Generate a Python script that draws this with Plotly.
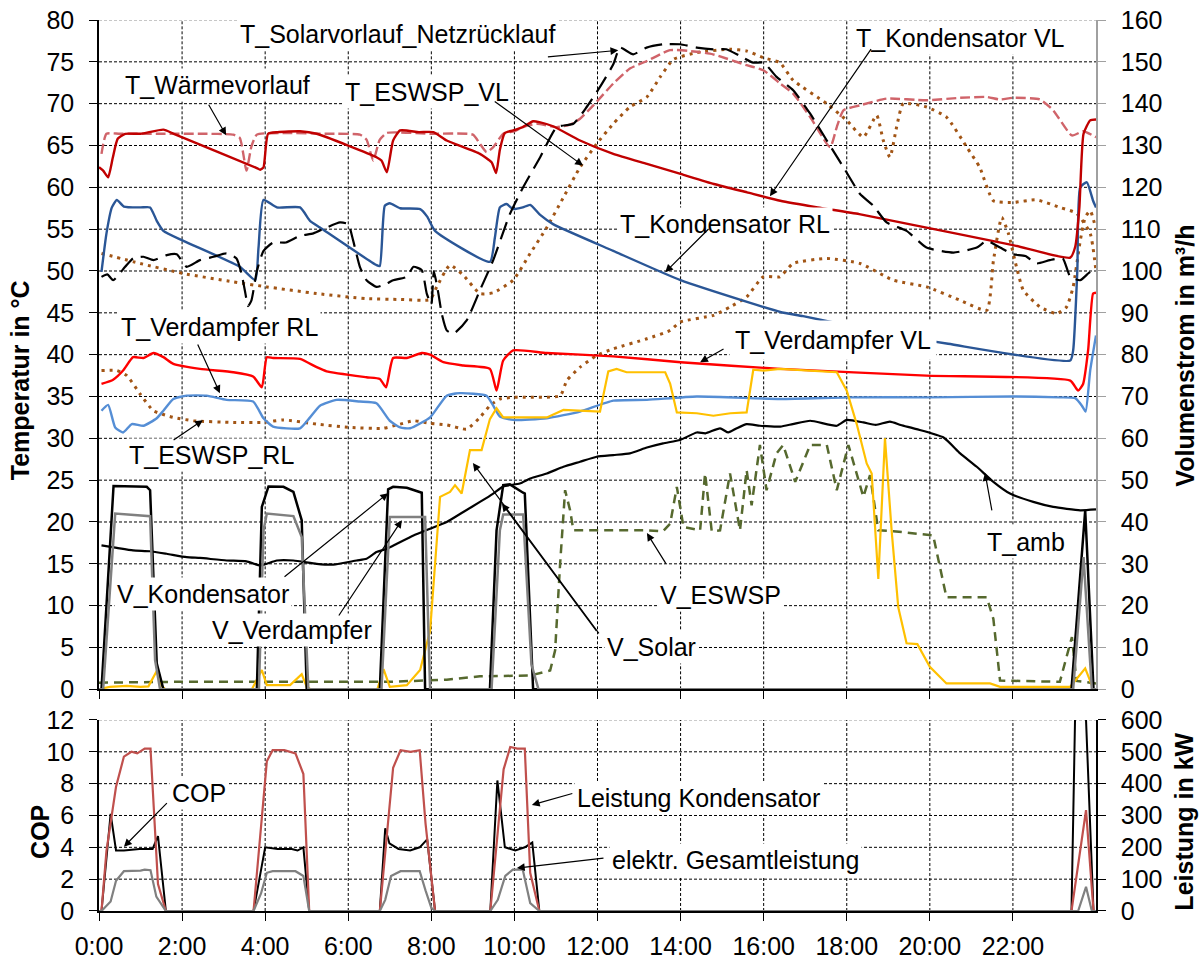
import plotly.graph_objects as go

# ---------------------------------------------------------------------------
# Measured daily profile, time in hours of the day
# Temperatures in °C (left axis, upper panel)
# ---------------------------------------------------------------------------
t_kondensator_vl = [
    (0.0, 62.4), (0.1, 62.0), (0.22, 61.2), (0.33, 63.5), (0.45, 65.8), (0.63, 66.4),
    (1.0, 66.4), (1.55, 66.9), (1.8, 66.4), (3.8, 62.3), (3.88, 62.1), (3.96, 62.4),
    (4.07, 66.4), (4.3, 66.6), (4.84, 66.7), (5.24, 66.4), (6.68, 63.6), (6.8, 63.2),
    (6.93, 61.8), (7.08, 65.6), (7.25, 66.8), (7.7, 66.6), (8.05, 66.6), (8.37, 65.6),
    (9.17, 64.0), (9.45, 63.0), (9.56, 61.7), (9.65, 64.5), (9.77, 66.5), (9.97, 66.8),
    (10.2, 67.2), (10.45, 67.9), (10.6, 67.8), (10.93, 67.3), (11.58, 65.6), (12.38, 64.0),
    (13.19, 62.8), (14.0, 61.6), (14.8, 60.4), (15.6, 59.4), (16.4, 58.4), (17.3, 57.6),
    (18.3, 56.8), (19.5, 55.6), (20.7, 54.4), (22.0, 53.1), (23.38, 51.6), (23.5, 52.9),
    (23.6, 57.6), (23.7, 66.4), (23.86, 68.0), (24.0, 68.1),
]

t_kondensator_rl = [
    (0.06, 49.9), (0.18, 54.5), (0.31, 57.6), (0.43, 58.5), (0.6, 57.7), (1.0, 57.6),
    (1.23, 57.6), (1.39, 56.0), (1.55, 54.8), (2.03, 53.6), (3.39, 50.5), (3.76, 48.9),
    (3.84, 52.8), (3.96, 58.5), (4.28, 57.6), (4.84, 57.6), (5.08, 56.0), (5.32, 55.2),
    (6.68, 50.7), (6.76, 50.6), (6.88, 57.8), (7.0, 58.1), (7.25, 57.5), (7.73, 57.4),
    (7.9, 56.5), (8.09, 54.8), (9.41, 51.1), (9.53, 54.0), (9.65, 57.6), (9.81, 58.0),
    (9.97, 57.4), (10.2, 57.6), (10.38, 57.9), (10.62, 56.7), (10.93, 55.6), (12.38, 52.4),
    (14.0, 48.9), (15.6, 46.3), (16.4, 45.1), (16.95, 44.6), (18.5, 43.0), (20.44, 41.3),
    (23.38, 39.3), (23.45, 40.5), (23.55, 50.0), (23.62, 60.0), (23.78, 60.6),
    (23.93, 58.4), (24.0, 57.6),
]

t_verdampfer_rl = [
    (0.06, 33.3), (0.22, 34.0), (0.39, 31.3), (0.58, 30.7), (0.79, 31.7), (1.07, 31.5),
    (1.39, 32.4), (1.55, 33.3), (1.79, 34.7), (2.11, 35.1), (2.59, 35.1), (3.07, 34.6),
    (3.71, 34.4), (3.96, 32.4), (4.19, 31.4), (4.84, 31.2), (5.08, 32.5), (5.32, 33.9),
    (5.72, 34.6), (6.28, 34.4), (6.68, 34.2), (7.0, 32.1), (7.25, 31.3), (7.49, 31.2),
    (7.97, 32.5), (8.37, 35.1), (8.69, 35.4), (9.33, 35.1), (9.49, 33.9), (9.65, 32.6),
    (9.97, 32.2), (10.78, 32.4), (11.58, 33.2), (12.38, 34.5), (13.19, 34.6), (14.39, 35.0),
    (16.4, 34.7), (18.08, 34.9), (20.0, 34.9), (22.0, 35.0), (23.13, 34.9), (23.5, 34.8),
    (23.66, 33.9), (23.75, 33.2), (23.86, 38.1), (24.0, 42.3),
]

t_verdampfer_vl = [
    (0.06, 36.5), (0.34, 37.0), (0.58, 38.1), (0.82, 39.7), (1.07, 39.6), (1.31, 40.2),
    (1.55, 39.7), (1.79, 38.9), (2.43, 38.3), (3.23, 37.9), (3.71, 37.4), (3.92, 36.1),
    (4.04, 39.7), (4.19, 39.6), (4.84, 39.5), (5.24, 38.5), (5.48, 38.0), (6.44, 37.3),
    (6.76, 37.1), (6.91, 36.1), (7.08, 39.6), (7.41, 39.6), (7.77, 40.2), (7.97, 40.0),
    (8.29, 39.1), (8.77, 38.7), (9.41, 38.3), (9.57, 35.7), (9.73, 39.3), (9.97, 40.5),
    (10.78, 40.2), (12.38, 39.8), (14.0, 39.1), (16.4, 38.3), (19.92, 37.5), (23.38, 36.9),
    (23.57, 35.7), (23.69, 36.5), (23.81, 40.5), (23.93, 47.3), (24.0, 47.4),
]

t_waermevorlauf = [
    (0.06, 64.0), (0.18, 66.4), (0.5, 66.4), (1.5, 66.4), (2.5, 66.4), (3.23, 66.3),
    (3.39, 65.9), (3.55, 62.0), (3.67, 64.9), (3.8, 66.3), (4.5, 66.5), (5.5, 66.4),
    (6.28, 66.3), (6.44, 65.7), (6.6, 63.2), (6.76, 65.7), (6.93, 66.5), (8.0, 66.4),
    (9.0, 66.3), (9.17, 65.2), (9.33, 64.2), (9.49, 64.8), (9.73, 66.4), (10.0, 66.7),
    (10.2, 67.2), (10.54, 67.6), (11.02, 67.2), (11.34, 67.5), (11.58, 68.2), (11.9, 69.8),
    (12.38, 72.4), (12.78, 74.2), (13.19, 75.1), (13.75, 76.4), (14.39, 76.2), (14.78, 75.9),
    (15.59, 74.6), (15.99, 74.0), (16.4, 72.4), (16.71, 71.2), (17.12, 68.4), (17.6, 64.8),
    (17.76, 67.2), (17.92, 69.2), (18.32, 69.8), (18.96, 70.6), (19.92, 70.4), (20.73, 70.7),
    (21.37, 70.8), (21.69, 70.5), (22.0, 70.7), (22.65, 70.5), (22.97, 69.2), (23.42, 66.2),
    (23.69, 66.7), (24.0, 66.0),
]

t_solar_netzruecklauf = [
    (0.06, 49.3), (0.2, 49.6), (0.34, 48.9), (0.63, 50.5), (0.82, 51.5), (1.07, 51.7),
    (1.31, 51.3), (1.63, 51.9), (1.87, 52.0), (2.11, 50.5), (2.43, 51.3), (2.76, 51.7),
    (3.07, 52.1), (3.31, 51.5), (3.43, 49.7), (3.51, 47.7), (3.59, 45.8), (3.67, 46.5),
    (3.8, 50.0), (3.96, 52.4), (4.19, 53.4), (4.5, 53.4), (4.84, 54.2), (5.16, 54.5),
    (5.48, 55.2), (5.8, 55.8), (6.0, 55.6), (6.12, 53.6), (6.28, 50.5), (6.44, 48.9),
    (6.68, 48.1), (6.93, 48.5), (7.08, 48.9), (7.41, 49.3), (7.57, 50.5), (7.77, 50.1),
    (7.89, 47.3), (8.0, 46.0), (8.06, 50.0), (8.17, 47.3), (8.25, 44.9), (8.37, 42.9),
    (8.53, 42.5), (8.85, 44.1), (9.17, 47.7), (9.49, 51.3), (9.89, 56.8), (10.21, 60.0),
    (10.62, 63.6), (11.02, 67.2), (11.42, 67.6), (11.74, 69.6), (12.06, 72.0), (12.38, 74.7),
    (12.54, 76.7), (12.86, 75.9), (13.18, 76.7), (13.58, 77.1), (13.99, 77.1), (14.39, 76.7),
    (14.79, 76.5), (15.1, 76.5), (15.43, 75.7), (15.75, 74.9), (16.0, 74.9), (16.31, 73.2),
    (16.71, 71.6), (17.12, 68.8), (17.52, 65.6), (17.92, 62.4), (18.32, 59.2), (18.64, 57.8),
    (18.96, 55.8), (19.44, 54.8), (19.92, 52.8), (20.57, 52.2), (21.13, 52.8), (21.37, 53.6),
    (21.69, 52.8), (22.0, 52.0), (22.3, 51.8), (22.57, 50.9), (22.89, 51.3), (23.2, 51.5),
    (23.38, 49.3), (23.62, 48.9), (23.81, 49.7), (24.0, 50.5),
]

t_eswsp_vl = [
    (0.06, 52.1), (0.99, 50.9), (2.03, 49.7), (3.23, 48.7), (4.04, 48.1), (5.24, 47.3),
    (6.44, 46.7), (7.25, 46.6), (7.97, 46.6), (8.13, 48.1), (8.45, 50.7), (8.77, 49.5),
    (9.17, 47.3), (9.49, 47.4), (9.97, 48.9), (10.38, 52.1), (10.78, 55.2), (11.18, 58.8),
    (11.58, 62.4), (11.98, 65.2), (12.38, 67.6), (12.78, 69.6), (13.19, 70.8), (13.51, 73.2),
    (13.83, 75.3), (14.39, 76.1), (15.19, 76.5), (15.59, 76.3), (15.99, 75.5), (16.39, 74.9),
    (16.71, 72.8), (17.52, 70.0), (18.0, 68.0), (18.4, 66.0), (18.72, 68.6), (18.88, 65.6),
    (19.04, 63.6), (19.2, 67.2), (19.36, 70.0), (19.92, 69.6), (20.4, 68.4), (20.89, 64.8),
    (21.2, 62.4), (21.53, 58.4), (22.0, 58.2), (22.57, 58.5), (23.13, 57.6), (23.53, 56.9),
    (23.86, 54.5), (24.0, 50.0),
]

t_eswsp_rl = [
    (0.06, 38.1), (0.43, 38.1), (0.67, 37.5), (0.99, 35.3), (1.31, 33.3), (1.79, 32.5),
    (2.27, 32.1), (3.23, 31.9), (3.96, 31.9), (4.44, 32.2), (5.24, 31.7), (6.04, 31.3),
    (6.84, 31.2), (7.25, 31.7), (7.57, 32.1), (7.97, 31.8), (8.37, 31.6), (8.85, 31.1),
    (9.17, 32.5), (9.41, 33.9), (9.65, 34.7), (9.97, 34.9), (11.1, 35.1), (11.26, 36.9),
    (11.58, 38.5), (11.98, 39.9), (12.38, 40.7), (13.19, 41.9), (13.75, 42.9), (13.99, 43.9),
    (14.79, 44.7), (15.19, 45.7), (15.59, 46.9), (15.99, 49.3), (16.39, 49.3), (16.71, 50.9),
    (17.52, 51.5), (18.32, 50.9), (19.12, 48.9), (19.92, 48.1), (20.73, 46.5), (21.37, 45.3),
    (21.53, 51.2), (21.73, 56.4), (21.89, 54.5), (22.09, 50.4), (22.25, 47.7), (22.65, 45.7),
    (23.05, 44.9), (23.29, 45.7), (23.45, 48.1), (23.62, 53.6), (23.74, 56.4), (23.86, 57.2),
    (24.0, 55.0),
]

t_amb = [
    (0.06, 17.2), (0.43, 16.9), (0.82, 16.6), (1.23, 16.5), (1.63, 16.2), (2.11, 15.8),
    (2.43, 15.7), (3.07, 15.4), (3.55, 15.3), (3.88, 14.8), (4.28, 15.4), (4.68, 15.4),
    (5.24, 15.0), (5.64, 14.9), (6.2, 15.4), (6.44, 15.6), (6.68, 16.4), (6.93, 16.8),
    (7.17, 17.4), (7.57, 18.4), (7.97, 19.2), (8.37, 20.0), (8.77, 21.2), (9.17, 22.4),
    (9.49, 23.4), (9.73, 24.25), (10.13, 24.6), (10.38, 25.2), (10.78, 25.8), (11.18, 26.6),
    (11.58, 27.2), (11.98, 27.8), (12.38, 28.0), (12.78, 28.2), (13.19, 28.9), (13.58, 29.4),
    (13.99, 29.8), (14.39, 30.7), (14.6, 30.6), (14.95, 31.2), (15.15, 30.7), (15.35, 31.2),
    (15.59, 31.7), (15.91, 31.5), (16.4, 31.4), (16.7, 31.7), (17.12, 32.1), (17.76, 31.5),
    (18.0, 32.2), (18.4, 31.9), (18.7, 31.6), (19.04, 32.0), (19.3, 31.6), (19.68, 31.1),
    (20.33, 30.1), (20.73, 28.2), (21.13, 26.6), (21.53, 24.8), (21.93, 23.4), (22.49, 22.4),
    (22.97, 21.8), (23.62, 21.4), (24.0, 21.5),
]

# Volume flows in m³/h (right axis, upper panel)
v_kondensator = [
    (0.0, 0), (0.06, 0), (0.35, 48.6), (1.0, 48.5), (1.15, 48.4), (1.23, 47.6), (1.39, 6.2),
    (1.55, 0), (3.8, 0), (3.92, 43.6), (4.08, 48.5), (4.44, 48.4), (4.68, 47.2), (4.88, 40.4),
    (5.0, 0), (6.76, 0), (6.96, 47.8), (7.08, 48.4), (7.41, 48.2), (7.77, 47.0), (7.85, 0),
    (9.41, 0), (9.57, 38.0), (9.73, 48.8), (9.89, 49.0), (10.21, 47.0), (10.25, 46.8),
    (10.45, 0), (23.41, 0), (23.74, 42.8), (23.94, 0), (24.0, 0),
]

v_verdampfer = [
    (0.0, 0), (0.1, 0), (0.39, 42.0), (1.15, 41.4), (1.23, 41.4), (1.35, 7.0), (1.47, 0),
    (3.85, 0), (3.96, 38.0), (4.04, 42.0), (4.44, 41.6), (4.68, 41.4), (4.88, 36.4),
    (5.04, 0), (6.8, 0), (7.0, 41.2), (7.73, 41.2), (7.85, 41.2), (7.97, 0), (9.45, 0),
    (9.65, 38.0), (9.73, 41.8), (10.21, 41.8), (10.41, 6.0), (10.58, 0), (23.45, 0),
    (23.7, 31.6), (23.9, 0), (24.0, 0),
]

v_solar = [
    (0.0, 0), (0.06, 0.2), (0.26, 0.6), (0.67, 0.8), (1.0, 0.6), (1.19, 0.7), (1.39, 4.4),
    (1.51, 0.8), (1.6, 0), (3.68, 0), (3.92, 4.6), (4.04, 1.0), (4.6, 1.0), (4.88, 3.6),
    (5.0, 0.6), (5.1, 0), (6.7, 0), (6.85, 4.8), (7.0, 0.6), (7.41, 1.0), (7.73, 4.6),
    (7.97, 14.0), (8.09, 30.0), (8.21, 46.0), (8.45, 47.2), (8.57, 48.8), (8.73, 46.8),
    (8.93, 57.2), (9.21, 57.2), (9.41, 64.6), (9.57, 67.2), (9.73, 65.0), (9.97, 65.0),
    (10.78, 65.0), (11.18, 66.8), (11.58, 66.6), (12.06, 66.4), (12.26, 76.0), (12.46, 76.6),
    (12.7, 75.8), (13.19, 75.8), (13.63, 75.8), (13.75, 73.0), (13.91, 66.2), (14.39, 66.0),
    (14.79, 65.4), (15.2, 66.0), (15.59, 66.2), (15.75, 76.4), (16.0, 76.2), (16.39, 76.6),
    (17.0, 76.2), (17.76, 75.8), (18.0, 71.4), (18.24, 63.4), (18.48, 54.0), (18.6, 51.6),
    (18.76, 26.4), (18.92, 60.0), (19.08, 38.0), (19.24, 19.6), (19.44, 11.0), (19.7, 10.8),
    (20.0, 5.4), (20.4, 1.4), (21.45, 1.4), (21.69, 0.6), (23.38, 0.6), (23.74, 5.0),
    (23.94, 0), (24.0, 0),
]

v_eswsp = [
    (0.0, 1.6), (1.0, 1.7), (2.0, 1.8), (4.0, 1.8), (6.0, 1.8), (7.0, 1.8), (8.37, 2.3),
    (9.17, 3.1), (10.38, 3.3), (10.7, 4.1), (10.86, 4.5), (10.98, 9.3), (11.1, 30.0),
    (11.22, 47.6), (11.34, 42.8), (11.42, 38.0), (11.98, 38.0), (13.19, 38.0), (13.58, 37.8),
    (13.75, 39.6), (13.91, 48.4), (14.07, 38.8), (14.47, 38.0), (14.59, 51.6), (14.75, 37.8),
    (14.95, 38.0), (15.19, 51.6), (15.43, 38.0), (15.59, 52.4), (15.71, 44.0), (15.91, 58.4),
    (16.07, 47.6), (16.31, 56.4), (16.47, 58.4), (16.76, 49.6), (17.12, 58.4), (17.52, 58.4),
    (17.76, 47.6), (18.04, 58.4), (18.4, 46.0), (18.56, 51.2), (18.76, 38.0), (19.12, 37.8),
    (20.08, 36.8), (20.4, 22.0), (21.37, 22.0), (21.53, 16.8), (21.69, 2.1), (23.13, 1.8),
    (23.42, 12.5), (23.53, 2.0), (24.0, 1.4),
]

# Lower panel: COP (left axis) and power in kW (right axis)
cop = [
    (0.0, 0), (0.06, 0), (0.28, 6.1), (0.41, 3.8), (0.6, 3.8), (0.97, 3.9), (1.29, 3.9),
    (1.42, 4.7), (1.61, 0), (3.72, 0), (4.0, 4.0), (4.3, 3.9), (4.64, 3.9), (4.78, 3.8),
    (4.92, 4.0), (5.06, 0), (6.76, 0), (6.89, 5.2), (6.99, 4.25), (7.21, 3.9), (7.49, 3.8),
    (7.72, 4.0), (7.9, 4.5), (8.09, 0), (9.42, 0), (9.59, 8.2), (9.77, 4.0), (10.02, 3.8),
    (10.25, 4.0), (10.43, 4.3), (10.6, 0), (23.41, 0), (23.58, 24.0), (23.94, 0), (24.0, 0),
]

leistung_kondensator = [
    (0.0, 0), (0.06, 0), (0.18, 190), (0.41, 390), (0.6, 485), (0.78, 500), (0.92, 495),
    (1.1, 510), (1.24, 510), (1.42, 85), (1.61, 0), (3.72, 0), (4.04, 470), (4.18, 505),
    (4.46, 505), (4.73, 495), (4.92, 430), (5.06, 0), (6.76, 0), (7.08, 450), (7.26, 505),
    (7.5, 500), (7.72, 505), (7.86, 275), (8.09, 0), (9.42, 0), (9.74, 445), (9.9, 515),
    (10.07, 510), (10.25, 510), (10.38, 120), (10.6, 0), (23.41, 0), (23.76, 317),
    (23.94, 0), (24.0, 0),
]

elektr_gesamtleistung = [
    (0.0, 0), (0.06, 0), (0.28, 30), (0.41, 95), (0.6, 125), (1.0, 127), (1.1, 130),
    (1.24, 128), (1.38, 45), (1.61, 0), (3.72, 0), (3.9, 55), (4.04, 120), (4.18, 125),
    (4.73, 125), (4.92, 110), (5.06, 0), (6.76, 0), (6.89, 35), (7.03, 110), (7.26, 125),
    (7.72, 125), (7.86, 65), (8.0, 10), (8.09, 0), (9.42, 0), (9.6, 35), (9.78, 110),
    (9.96, 130), (10.2, 130), (10.38, 25), (10.6, 0), (23.57, 0), (23.76, 76), (23.9, 0),
    (24.0, 0),
]

hour_ticks = list(range(0, 24, 2))
hour_labels = [f"{h}:00" for h in hour_ticks]
temp_ticks = list(range(0, 81, 5))
flow_ticks = list(range(0, 161, 10))
cop_ticks = list(range(0, 13, 2))
power_ticks = list(range(0, 601, 100))

FONT = "Liberation Sans, Arial, sans-serif"
FS = 25
GRID_DASH = "3px,2px"


def split(pairs):
    return [p[0] for p in pairs], [p[1] for p in pairs]


fig = go.Figure()


def add_line(pairs, color, width=2.0, dash="solid", xaxis="x", yaxis="y", smooth=False):
    x, y = split(pairs)
    line = dict(color=color, width=width, dash=dash)
    if smooth:
        line.update(shape="spline", smoothing=0.5)
    fig.add_trace(go.Scatter(
        x=x, y=y, mode="lines", xaxis=xaxis, yaxis=yaxis, line=line,
        hoverinfo="skip", showlegend=False,
    ))


# upper panel – flows (right axis)
add_line(v_eswsp, "#56692E", 2.5, "9px,6px", yaxis="y2")
add_line(v_solar, "#FFC000", 2.2, yaxis="y2")
add_line(v_kondensator, "#000000", 2.5, yaxis="y2")
add_line(v_verdampfer, "#808080", 2.5, yaxis="y2")

# upper panel – temperatures (left axis)
add_line(t_amb, "#000000", 2.2, smooth=True)
add_line(t_eswsp_rl, "#A25515", 3.0, "3px,5px", smooth=True)
add_line(t_eswsp_vl, "#A25515", 3.0, "3px,5px", smooth=True)
add_line(t_verdampfer_rl, "#558ED5", 2.4, smooth=True)
add_line(t_verdampfer_vl, "#FF0000", 2.4, smooth=True)
add_line(t_kondensator_rl, "#2A5696", 2.4, smooth=True)
add_line(t_waermevorlauf, "#D0646A", 2.4, "10px,4px", smooth=True)
add_line(t_kondensator_vl, "#C00000", 2.4, smooth=True)
add_line(t_solar_netzruecklauf, "#000000", 2.2, "18px,8px", smooth=True)

# lower panel
add_line(leistung_kondensator, "#C0504D", 2.2, xaxis="x2", yaxis="y4")
add_line(elektr_gesamtleistung, "#808080", 2.2, xaxis="x2", yaxis="y4")
add_line(cop, "#000000", 2.0, xaxis="x2", yaxis="y3")

tickfont = dict(family=FONT, size=FS, color="black")
common_x = dict(
    range=[0, 24], tickvals=hour_ticks, ticks="outside", ticklen=8, tickcolor="black",
    showline=True, linecolor="black", linewidth=1.5, showgrid=False,
    zeroline=False, tickfont=tickfont, automargin=False,
)
left_y = dict(
    ticks="outside", ticklen=8, tickcolor="black", showline=True, linecolor="black",
    linewidth=1.5, showgrid=False, zeroline=False, tickfont=tickfont,
    ticklabelstandoff=10, automargin=False,
)
right_y = dict(
    side="right", ticks="outside", ticklen=8, showline=True, linewidth=1.5,
    showgrid=False, zeroline=False, tickfont=tickfont, ticklabelstandoff=10,
    automargin=False,
)

TOP_LO = 0.2488
BOT_HI = 0.2144

fig.update_layout(
    template="none",
    width=1203, height=963,
    margin=dict(l=99, r=107, t=20, b=52, autoexpand=False),
    paper_bgcolor="white", plot_bgcolor="white",
    font=dict(family=FONT, size=FS, color="black"),
    showlegend=False,
    xaxis=dict(domain=[0, 1], anchor="y", showticklabels=False, **common_x),
    yaxis=dict(domain=[TOP_LO, 1], anchor="x", range=[0, 80], tickvals=temp_ticks, **left_y),
    yaxis2=dict(overlaying="y", anchor="x", range=[0, 160], tickvals=flow_ticks,
                linecolor="#A0A0A0", tickcolor="#A0A0A0", **right_y),
    xaxis2=dict(domain=[0, 1], anchor="y3", ticktext=hour_labels,
                ticklabelstandoff=4, **common_x),
    yaxis3=dict(domain=[0, BOT_HI], anchor="x2", range=[0, 12], tickvals=cop_ticks, **left_y),
    yaxis4=dict(overlaying="y3", anchor="x2", range=[0, 600], tickvals=power_ticks,
                linecolor="black", tickcolor="black", **right_y),
)

# dashed grid, drawn underneath the curves
shapes = []
for v in temp_ticks[1:]:
    shapes.append(dict(type="line", xref="x", yref="y", x0=0, x1=24, y0=v, y1=v,
                       layer="below",
                       line=dict(color="#909090" if v == 80 else "black", width=1,
                                 dash=GRID_DASH)))
for h in hour_ticks[1:]:
    shapes.append(dict(type="line", xref="x", yref="y", x0=h, x1=h, y0=0, y1=80,
                       layer="below", line=dict(color="black", width=1, dash=GRID_DASH)))
for v in cop_ticks[1:]:
    shapes.append(dict(type="line", xref="x2", yref="y3", x0=0, x1=24, y0=v, y1=v,
                       layer="below",
                       line=dict(color="#909090" if v == 12 else "black", width=1,
                                 dash=GRID_DASH)))
for h in hour_ticks[1:]:
    shapes.append(dict(type="line", xref="x2", yref="y3", x0=h, x1=h, y0=0, y1=12,
                       layer="below", line=dict(color="black", width=1, dash=GRID_DASH)))
fig.update_layout(shapes=shapes)

# series labels (white boxes hide what lies behind them)
top_labels = [
    ("T_Solarvorlauf_Netzrücklauf", 7.19, 78.3, 2),
    ("T_Wärmevorlauf", 2.86, 72.2, 2),
    ("T_ESWSP_VL", 7.9, 71.35, 2),
    ("T_Kondensator VL", 20.73, 77.87, 2),
    ("T_Kondensator RL", 15.07, 55.6, 2),
    ("T_Verdampfer RL", 2.89, 43.3, 2),
    ("T_ESWSP_RL", 2.72, 28.0, 2),
    ("T_Verdampfer VL", 17.67, 41.7, 5),
    ("T_amb", 22.32, 17.6, 2),
    ("V_Kondensator", 2.5, 11.4, 2),
    ("V_Verdampfer", 4.65, 7.1, 2),
    ("V_Solar", 13.29, 5.0, 2),
    ("V_ESWSP", 14.97, 11.25, 2),
]
bottom_labels = [
    ("COP", 2.41, 7.41, 2),
    ("Leistung Kondensator", 14.42, 7.1, 2),
    ("elektr. Gesamtleistung", 15.33, 3.2, 2),
]

# arrows: (tail x, tail y, head x, head y)
top_arrows = [
    (10.77, 75.58, 12.5, 76.38),
    (2.62, 70.05, 3.06, 66.23),
    (9.49, 70.4, 11.65, 62.6),
    (18.61, 76.7, 16.15, 58.94),
    (14.71, 55.2, 13.63, 49.85),
    (2.36, 41.38, 2.91, 35.4),
    (1.76, 29.67, 2.5, 32.17),
    (15.07, 40.77, 14.47, 39.1),
    (21.5, 21.2, 21.33, 25.85),
    (4.43, 13.3, 6.96, 23.45),
    (5.75, 8.64, 7.29, 20.22),
    (12.06, 6.5, 9.0, 27.04),
    (12.0, 6.8, 9.7, 22.2),
    (13.67, 14.85, 13.19, 18.67),
]
bottom_arrows = [
    (1.67, 6.87, 0.6, 4.04),
    (11.43, 7.41, 10.42, 6.66),
    (12.18, 3.33, 10.06, 2.7),
]

annotations = []
for text, x, y, pad in top_labels:
    annotations.append(dict(text=text, x=x, y=y, xref="x", yref="y", showarrow=False,
                            bgcolor="white", borderpad=pad,
                            font=dict(family=FONT, size=FS, color="black")))
for text, x, y, pad in bottom_labels:
    annotations.append(dict(text=text, x=x, y=y, xref="x2", yref="y3", showarrow=False,
                            bgcolor="white", borderpad=pad,
                            font=dict(family=FONT, size=FS, color="black")))
for tx, ty, hx, hy in top_arrows:
    annotations.append(dict(text="", x=hx, y=hy, ax=tx, ay=ty, xref="x", yref="y",
                            axref="x", ayref="y", showarrow=True, arrowhead=2,
                            arrowsize=1.3, arrowwidth=1.2, arrowcolor="black"))
for tx, ty, hx, hy in bottom_arrows:
    annotations.append(dict(text="", x=hx, y=hy, ax=tx, ay=ty, xref="x2", yref="y3",
                            axref="x2", ayref="y3", showarrow=True, arrowhead=2,
                            arrowsize=1.3, arrowwidth=1.2, arrowcolor="black"))

# axis titles
bold = dict(family=FONT, size=FS, color="black", weight="bold")
for text, x, y in [
    ("Temperatur in °C", -0.079, 0.596),
    ("COP", -0.059, 0.089),
    ("Volumenstrom in m³/h", 1.089, 0.623),
    ("Leistung in kW", 1.088, 0.100),
]:
    annotations.append(dict(text=f"<b>{text}</b>", x=x, y=y, xref="paper", yref="paper",
                            showarrow=False, textangle=-90, xanchor="center",
                            yanchor="middle", font=bold))

fig.update_layout(annotations=annotations)

fig.write_html("out.html")
